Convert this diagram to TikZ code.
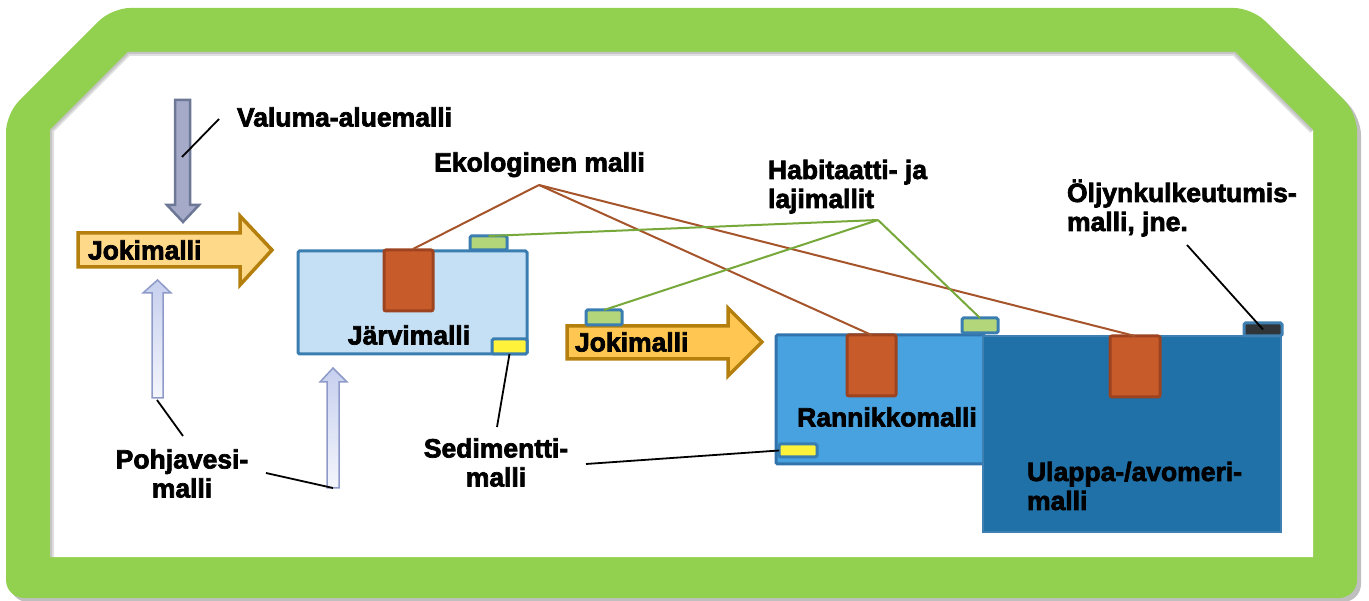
\documentclass[tikz,border=0pt]{standalone}
\usepackage{fontspec}
\newfontfamily\lab{Liberation Sans}[FakeBold=2.6]
\definecolor{frameG}{HTML}{92D050}
\definecolor{jarF}{HTML}{C5E0F4}
\definecolor{boxD}{HTML}{3A7DB0}
\definecolor{ranF}{HTML}{48A2DF}
\definecolor{ranD}{HTML}{3174AD}
\definecolor{ulaF}{HTML}{1F71A8}
\definecolor{ulaD}{HTML}{3F80B2}
\definecolor{orgF}{HTML}{C85B2A}
\definecolor{orgD}{HTML}{9E4320}
\definecolor{habF}{HTML}{B3D67A}
\definecolor{sedF}{HTML}{FFF23A}
\definecolor{oilF}{HTML}{2F3539}
\definecolor{ecoC}{HTML}{A6542A}
\definecolor{habC}{HTML}{77A83A}
\definecolor{jokF}{HTML}{FFD98A}
\definecolor{jokFb}{HTML}{FFC751}
\definecolor{jokD}{HTML}{B57F0E}
\definecolor{valF}{HTML}{A4AAC8}
\definecolor{valD}{HTML}{6C7896}
\definecolor{pohT}{HTML}{C6CFEE}
\definecolor{pohB}{HTML}{F4F6FC}
\definecolor{pohD}{HTML}{8E9BC9}
\tikzset{
  lbl/.style={font=\lab\bfseries\fontsize{26.5}{29}\selectfont, inner sep=0, outer sep=0, text=black},
  lblL/.style={lbl, align=left},
  lblC/.style={lbl, align=center},
  lead/.style={draw=black, line width=1.8pt},
  ecol/.style={draw=ecoC, line width=2pt},
  habl/.style={draw=habC, line width=2pt},
  box/.style={rectangle, inner sep=0, outer sep=0},
  orgbox/.style={box, fill=orgF, draw=orgD, line width=3pt, rounded corners=2pt, minimum width=49pt, minimum height=61pt},
  tab/.style={box, draw=boxD, line width=3pt, rounded corners=1.5pt, minimum width=36pt, minimum height=14pt},
  jokarrow/.style={draw=jokD, line width=3.5pt, line join=miter},
  poharrow/.style={top color=pohT, bottom color=pohB, draw=pohD, line width=1.5pt},
}
\begin{document}
\begin{tikzpicture}[x=1pt,y=-1pt]
\useasboundingbox (0,0) rectangle (1369,601);
\fill[white] (0,0) rectangle (1369,601);
% frame
\fill[black, opacity=0.25, rounded corners=18pt] (10,118) -- (116,12) -- (1256,12) -- (1361,117) -- (1361,602) -- (10,602) -- cycle;
\fill[frameG, rounded corners=18pt] (6,114) -- (112,8) -- (1252,8) -- (1357,113) -- (1357,598) -- (6,598) -- cycle;
\fill[white] (50,130) -- (128,52) -- (1235,52) -- (1313,130) -- (1313,557) -- (50,557) -- cycle;
\begin{scope}
  \clip (50,130) -- (128,52) -- (1235,52) -- (1313,130) -- (1313,557) -- (50,557) -- cycle;
  \draw[black, opacity=0.12, line width=8pt] (50,557) -- (50,130) -- (128,52) -- (1235,52) -- (1313,130);
  \draw[black, opacity=0.12, line width=4pt] (50,557) -- (50,130) -- (128,52) -- (1235,52) -- (1313,130);
\end{scope}

% Valuma arrow
\draw[fill=valF, draw=valD, line width=2.5pt] (175,100) -- (190,100) -- (190,205) -- (199,205) -- (183,222) -- (167,205) -- (175,205) -- cycle;
% Jokimalli 1
\draw[jokarrow, fill=jokF] (78,233) -- (240,233) -- (240,216) -- (272,250) -- (240,285) -- (240,267) -- (78,267) -- cycle;
% Pohjavesi arrows
\draw[poharrow] (152,398) -- (152,293) -- (143,293) -- (157.5,280) -- (171,293) -- (163,293) -- (163,398) -- cycle;
\draw[poharrow] (327,488) -- (327,382) -- (320,382) -- (333,368) -- (347,382) -- (339,382) -- (339,488) -- cycle;
% Jokimalli 2
\draw[jokarrow, fill=jokFb] (567,326) -- (728,326) -- (728,308) -- (762,342) -- (728,376) -- (728,359) -- (567,359) -- cycle;

% Jarvi
\node[box, fill=jarF, draw=boxD, line width=3pt, rounded corners=1.5pt, minimum width=229pt, minimum height=103pt] (jarvi) at (412.5,302.5) {};
\node[orgbox] (jarviEco) at (408.5,280.5) {};
\node[tab, fill=habF, minimum width=37pt] (jarviHab) at (488.5,243) {};
\node[tab, fill=sedF, minimum width=35pt, minimum height=15pt] (jarviSed) at (509.5,346.5) {};
\node[tab, fill=habF, minimum height=15pt] (jokiHab) at (604,317.5) {};

% Rannikko
\node[box, fill=ranF, draw=ranD, line width=3pt, rounded corners=1.5pt, minimum width=209pt, minimum height=129pt] (rannikko) at (880.5,399.5) {};
\node[orgbox] (ranEco) at (871.5,365.5) {};
\node[tab, fill=sedF, minimum width=38pt, minimum height=13pt] (ranSed) at (798,450.5) {};
% Ulappa
\node[box, fill=ulaF, draw=ulaD, line width=2pt, minimum width=298pt, minimum height=196pt] (ulappa) at (1132,434) {};
\node[orgbox, minimum width=50pt] (ulaEco) at (1135,366.5) {};
\node[tab, fill=habF, minimum height=15pt] (ulaHab) at (980,325.5) {};
\node[tab, fill=oilF, draw=ulaD, minimum width=38pt, minimum height=13pt] (oil) at (1263,329.5) {};

% labels
\node[lbl, anchor=base west] (valT) at (237,126.5) {Valuma-aluemalli};
\node[lbl, anchor=base west] (jok1T) at (88,259.5) {Jokimalli};
\node[lbl, anchor=base west] (jok2T) at (575,351.5) {Jokimalli};
\node[lbl, anchor=base] (ekoT) at (539.5,171.5) {Ekologinen malli};
\node[lblL, anchor=base west] (habT) at (768,208) {Habitaatti- ja\\lajimallit};
\node[lblL, anchor=base west] (oilT) at (1067,231) {Öljynkulkeutumis-\\malli, jne.};
\node[lbl, anchor=base] (jarT) at (409,344.5) {Järvimalli};
\node[lbl, anchor=base] (ranT) at (887,426.5) {Rannikkomalli};
\node[lblL, anchor=base west] (ulaT) at (1027,510) {Ulappa-/avomeri-\\malli};
\node[lblC, anchor=base] (sedT) at (496,486.5) {Sedimentti-\\malli};
\node[lblC, anchor=base] (pohT) at (182,497.5) {Pohjavesi-\\malli};

% leader coordinates
\coordinate (ekoA) at (539,185);
\coordinate (habA) at (878,220);
\coordinate (valA) at (219,119);
\coordinate (valB) at (182,157);
\coordinate (pohA) at (183,436);
\coordinate (pohB) at (157,400);
\coordinate (pohC) at (266,473);
\coordinate (pohD) at (333,488);
\coordinate (sedA) at (497,427);
\coordinate (sedB) at (586,464);
\coordinate (oilA) at (1187,245);

% ecological lines
\draw[ecol] (ekoA) -- (413,249);
\draw[ecol] (ekoA) -- (ranEco.north);
\draw[ecol] (ekoA) -- (ulaEco.north);
% habitat lines
\draw[habl] (habA) -- (jarviHab.north);
\draw[habl] (habA) -- (jokiHab.north);
\draw[habl] (habA) -- (ulaHab.north);
% black leaders
\draw[lead] (valA) -- (valB);
\draw[lead] (pohB) -- (pohA);
\draw[lead] (pohC) -- (pohD);
\draw[lead] (sedA) -- (jarviSed.south);
\draw[lead] (sedB) -- (ranSed.west);
\draw[lead] (oilA) -- (oil.center);
\end{tikzpicture}
\end{document}
